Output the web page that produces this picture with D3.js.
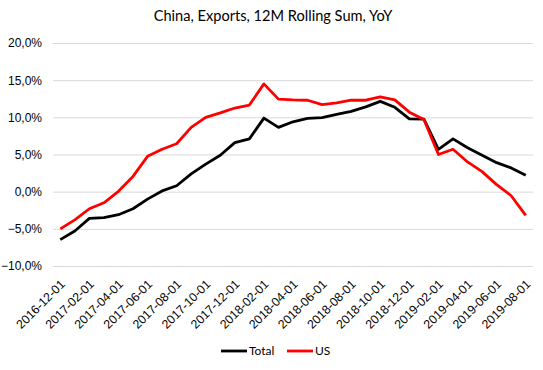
<!DOCTYPE html>
<html>
<head>
<meta charset="utf-8">
<script src="https://cdn.jsdelivr.net/npm/d3@7"></script>
<style>
    body { margin: 0; background: #fff; }
    svg { font-family: Lato, "Liberation Sans", sans-serif; }
</style>
</head>
<body>
<svg id="chart" width="543" height="370"></svg>
<script>
const months = [
    "2016-12-01", "2017-01-01", "2017-02-01", "2017-03-01", "2017-04-01", "2017-05-01",
    "2017-06-01", "2017-07-01", "2017-08-01", "2017-09-01", "2017-10-01", "2017-11-01",
    "2017-12-01", "2018-01-01", "2018-02-01", "2018-03-01", "2018-04-01", "2018-05-01",
    "2018-06-01", "2018-07-01", "2018-08-01", "2018-09-01", "2018-10-01", "2018-11-01",
    "2018-12-01", "2019-01-01", "2019-02-01", "2019-03-01", "2019-04-01", "2019-05-01",
    "2019-06-01", "2019-07-01", "2019-08-01"
];

const total = [
    -6.45, -5.3, -3.6, -3.5, -3.1, -2.3, -1.0, 0.1, 0.8, 2.4, 3.7, 4.9,
    6.6, 7.1, 9.9, 8.65, 9.4, 9.85, 9.95, 10.4, 10.8, 11.4, 12.15, 11.35,
    9.8, 9.75, 5.7, 7.1, 5.9, 4.9, 3.9, 3.2, 2.2
];

const us = [
    -5.0, -3.8, -2.3, -1.5, 0.05, 2.05, 4.75, 5.7, 6.45, 8.65, 10.0, 10.6,
    11.25, 11.65, 14.5, 12.45, 12.35, 12.3, 11.7, 11.95, 12.3, 12.3, 12.75, 12.35,
    10.7, 9.7, 5.0, 5.7, 4.0, 2.7, 0.95, -0.55, -3.2
];

const y_ticks = [-10, -5, 0, 5, 10, 15, 20];

const series = [
    { name: "Total", values: total, color: "#000000" },
    { name: "US", values: us, color: "#ff0000" }
];

const svg = d3.select("#chart");
const plot = { left: 53, right: 533, top: 43, bottom: 266 };

const x = d3.scalePoint()
    .domain(months)
    .range([plot.left, plot.right])
    .padding(0.5);

const y = d3.scaleLinear()
    .domain([-10, 20])
    .range([plot.bottom, plot.top]);

const pct = d => d3.format(".1f")(d).replace(".", ",") + "%";

// title
svg.append("text")
    .attr("x", 273)
    .attr("y", 21)
    .attr("text-anchor", "middle")
    .attr("font-size", 14.6)
    .attr("fill", "#000")
    .text("China, Exports, 12M Rolling Sum, YoY");

// grid + y labels
let y_axis = svg.append("g")
    .attr("transform", `translate(${plot.left},0)`)
    .call(d3.axisLeft(y)
        .tickValues(y_ticks)
        .tickSize(-(plot.right - plot.left))
        .tickPadding(11)
        .tickFormat(pct));
y_axis.select(".domain").remove();
y_axis.selectAll(".tick line").attr("stroke", "#d9d9d9");
y_axis.selectAll(".tick text")
    .attr("font-size", 12)
    .attr("fill", "#000")
    .attr("font-family", null);

// x labels every two months
let x_axis = svg.append("g")
    .attr("transform", `translate(0,${plot.bottom})`)
    .call(d3.axisBottom(x)
        .tickValues(months.filter((_, i) => i % 2 === 0))
        .tickSize(0)
        .tickPadding(0));
x_axis.select(".domain").remove();
x_axis.selectAll(".tick text")
    .attr("font-size", 12.3)
    .attr("fill", "#000")
    .attr("font-family", null)
    .attr("text-anchor", "end")
    .attr("dy", null)
    .attr("transform", "translate(5,19) rotate(-45)");

// lines
let line_generator = (values) => d3.line()
    .x((_, i) => x(months[i]))
    .y(d => y(d))(values);

svg.append("g")
    .selectAll("path")
    .data(series)
    .join("path")
    .attr("d", d => line_generator(d.values))
    .attr("fill", "none")
    .attr("stroke", d => d.color)
    .attr("stroke-width", 2.8)
    .attr("stroke-linejoin", "round");

// legend
const legend_x = [221, 287];
let legend = svg.append("g")
    .selectAll("g")
    .data(series)
    .join("g")
    .attr("transform", (_, i) => `translate(${legend_x[i]},351)`);
legend.append("line")
    .attr("x1", 0)
    .attr("x2", 26)
    .attr("stroke", d => d.color)
    .attr("stroke-width", 2.8);
legend.append("text")
    .attr("x", 28)
    .attr("dy", "0.35em")
    .attr("font-size", 12)
    .text(d => d.name);
</script>
</body>
</html>
